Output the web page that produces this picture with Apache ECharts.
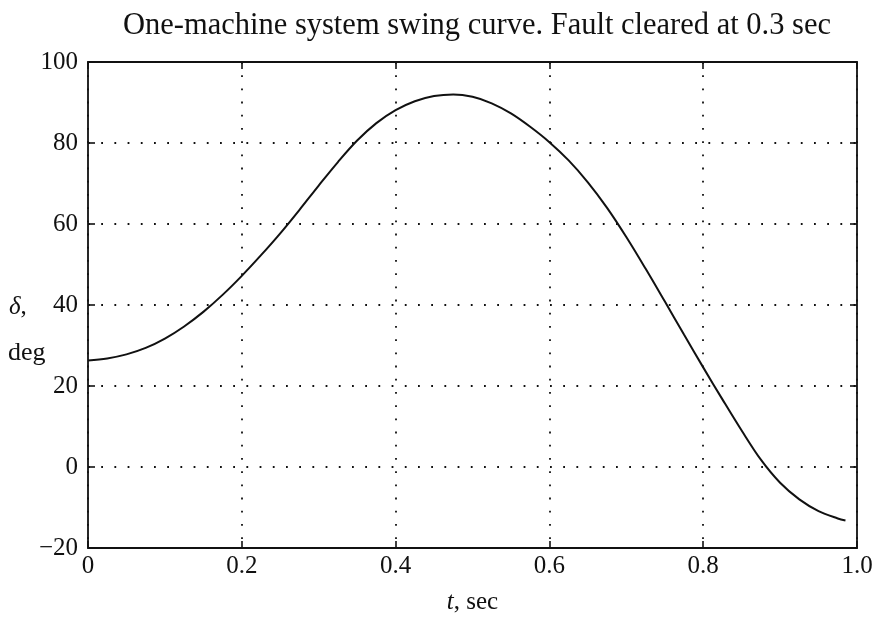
<!DOCTYPE html>
<html>
<head>
<meta charset="utf-8">
<script src="https://cdn.jsdelivr.net/npm/echarts@6/dist/echarts.min.js"></script>
<style>
  html, body { margin: 0; padding: 0; background: #fff; }
  #chart { width: 880px; height: 631px; }
</style>
</head>
<body>
<div id="chart"></div>
<script>
// Rotor angle swing curve of a one-machine system (fault cleared at 0.3 s)
const timeSec = [0, 0.025, 0.05, 0.075, 0.1, 0.125, 0.15, 0.175, 0.2, 0.225, 0.25, 0.275,
  0.3, 0.325, 0.35, 0.375, 0.4, 0.425, 0.45, 0.475, 0.5, 0.525, 0.55, 0.575, 0.6, 0.625,
  0.65, 0.675, 0.7, 0.725, 0.75, 0.775, 0.8, 0.825, 0.85, 0.875, 0.9, 0.925, 0.95, 0.975, 0.985];
const deltaDeg = [26.3, 26.8, 27.8, 29.4, 31.7, 34.7, 38.3, 42.5, 47.2, 52.3, 57.7, 63.5,
  69.5, 75.3, 80.6, 84.9, 88.1, 90.3, 91.6, 92.0, 91.4, 89.8, 87.3, 84.0, 80.2, 75.7,
  70.3, 64.0, 56.8, 49.0, 40.9, 32.7, 24.6, 16.7, 9.0, 1.8, -3.9, -8.0, -10.9, -12.7, -13.2];

const xTicks = { min: 0, max: 1, interval: 0.2 };
const yTicks = { min: -20, max: 100, interval: 20 };

const serif = 'Liberation Serif';
const ink = '#111';

const points = timeSec.map((t, i) => [t, deltaDeg[i]]);

const xLabel = v => (v === 0 ? '0' : v.toFixed(1));
const yLabel = v => String(v).replace('-', '\u2212');

const dotted = { color: ink, width: 1.8, type: [1.8, 11.4] };
const tickStyle = { show: true, inside: true, length: 7, lineStyle: { color: ink, width: 1.6 } };

const chart = echarts.init(document.getElementById('chart'), null, { renderer: 'canvas' });
chart.setOption({
  backgroundColor: '#fff',
  animation: false,
  title: {
    text: 'One-machine system swing curve. Fault cleared at 0.3 sec',
    left: 472, top: 5, textAlign: 'center',
    textStyle: { fontFamily: serif, fontSize: 30.5, fontWeight: 'normal', color: ink }
  },
  grid: { left: 88, right: 23, top: 62, bottom: 83, show: true, borderColor: ink, borderWidth: 1.8 },
  xAxis: [{
    type: 'value', min: xTicks.min, max: xTicks.max, interval: xTicks.interval,
    axisLine: { show: false, onZero: false },
    axisTick: tickStyle,
    axisLabel: { formatter: xLabel, margin: 6, fontFamily: serif, fontSize: 25, color: ink },
    splitLine: { show: true, lineStyle: dotted },
    name: '{i|t}, sec', nameLocation: 'middle', nameGap: 42,
    nameTextStyle: {
      fontFamily: serif, fontSize: 25, color: ink,
      rich: { i: { fontFamily: serif, fontSize: 25, fontStyle: 'italic', color: ink } }
    }
  }, {
    type: 'value', position: 'top', min: xTicks.min, max: xTicks.max, interval: xTicks.interval,
    axisLine: { show: false, onZero: false }, axisLabel: { show: false }, splitLine: { show: false },
    axisTick: tickStyle
  }],
  yAxis: [{
    type: 'value', min: yTicks.min, max: yTicks.max, interval: yTicks.interval,
    axisLine: { show: false, onZero: false },
    axisTick: tickStyle,
    axisLabel: { formatter: yLabel, margin: 10, fontFamily: serif, fontSize: 25, color: ink },
    splitLine: { show: true, lineStyle: dotted }
  }, {
    type: 'value', position: 'right', min: yTicks.min, max: yTicks.max, interval: yTicks.interval,
    axisLine: { show: false, onZero: false }, axisLabel: { show: false }, splitLine: { show: false },
    axisTick: tickStyle
  }],
  graphic: [{
    type: 'text', left: 9, top: 295,
    style: {
      text: '{i|\u03b4},', fill: ink, font: '25px "Liberation Serif"',
      rich: { i: { fontFamily: serif, fontSize: 25, fontStyle: 'italic', fill: ink } }
    }
  }, {
    type: 'text', left: 8, top: 340,
    style: { text: 'deg', fill: ink, font: '26px "Liberation Serif"' }
  }],
  series: [{
    type: 'line', data: points, xAxisIndex: 0, yAxisIndex: 0,
    showSymbol: false, smooth: 0.35,
    lineStyle: { color: ink, width: 2 }
  }]
});
</script>
</body>
</html>
